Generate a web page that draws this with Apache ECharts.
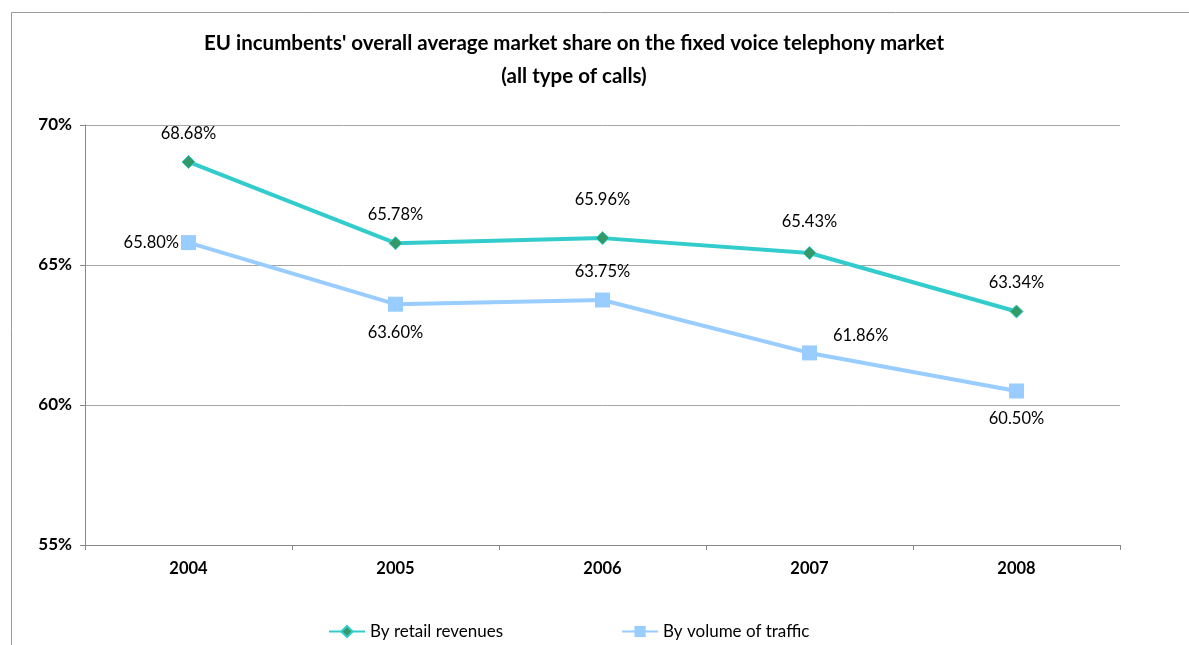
<!DOCTYPE html>
<html>
<head>
<meta charset="UTF-8">
<title>EU incumbents market share</title>
<script src="https://cdn.jsdelivr.net/npm/echarts@6/dist/echarts.min.js"></script>
<style>
  html, body { margin: 0; padding: 0; background: #fff; }
  #main { width: 1189px; height: 645px; }
</style>
</head>
<body>
<div id="main"></div>
<script>
var years = ['2004', '2005', '2006', '2007', '2008'];
var retailRevenues = [68.68, 65.78, 65.96, 65.43, 63.34];
var volumeTraffic = [65.80, 63.60, 63.75, 61.86, 60.50];
// label placement per point (as in the original chart)
var retailLabelOffset = [[0, 0], [0, 0], [0, -10], [0, -3], [0, 0]];
var volumeLabelPos = ['left', 'bottom', 'top', 'right', 'bottom'];
var volumeLabelOffset = [[10, 0], [0, 0], [0, 0], [4, -17], [0, 0]];

var font = 'Lato, "Open Sans", sans-serif';
var chart = echarts.init(document.getElementById('main'));

function pct(p) { return p.value.toFixed(2) + '%'; }

var option = {
  backgroundColor: '#fff',
  animation: false,
  title: {
    text: "EU incumbents' overall average market share on the fixed voice telephony market\n(all type of calls)",
    left: 569,
    textAlign: 'center',
    top: 22,
    textStyle: { fontFamily: font, fontSize: 20.5, fontWeight: 'bold', color: '#000', lineHeight: 33 }
  },
  graphic: [{
    type: 'rect',
    shape: { x: 11.5, y: 12.5, width: 1300, height: 800 },
    style: { fill: 'none', stroke: '#999', lineWidth: 1 },
    silent: true
  }],
  legend: {
    bottom: 0,
    left: 323,
    itemGap: 118,
    itemWidth: 36,
    itemHeight: 14,
    textStyle: { fontFamily: font, fontSize: 17, color: '#000' },
    data: ['By retail revenues', 'By volume of traffic']
  },
  grid: { left: 85, right: 69, top: 125, bottom: 100 },
  xAxis: {
    type: 'category',
    data: years,
    boundaryGap: true,
    axisLine: { lineStyle: { color: '#888' } },
    axisTick: { show: true, length: 5, lineStyle: { color: '#888' } },
    axisLabel: { fontFamily: font, fontSize: 16.5, fontWeight: 'bold', color: '#000', margin: 15 }
  },
  yAxis: {
    type: 'value',
    min: 55,
    max: 70,
    interval: 5,
    axisLine: { show: true, lineStyle: { color: '#888' } },
    axisTick: { show: true, length: 5, lineStyle: { color: '#888' } },
    splitLine: { lineStyle: { color: '#a6a6a6' } },
    axisLabel: {
      fontFamily: font, fontSize: 17, fontWeight: 'bold', color: '#000', margin: 13,
      formatter: function (v) { return v + '%'; }
    }
  },
  series: [
    {
      name: 'By retail revenues',
      type: 'line',
      data: retailRevenues.map(function (v, i) {
        return { value: v, label: { offset: retailLabelOffset[i] } };
      }),
      symbol: 'diamond',
      symbolSize: 13,
      lineStyle: { color: '#33CCCC', width: 4 },
      itemStyle: { color: '#339966', borderColor: '#33CCCC', borderWidth: 1 },
      label: {
        show: true, position: 'top', distance: 13,
        fontFamily: font, fontSize: 16.5, color: '#000',
        formatter: pct
      },
      z: 3
    },
    {
      name: 'By volume of traffic',
      type: 'line',
      data: volumeTraffic.map(function (v, i) {
        return { value: v, label: { position: volumeLabelPos[i], offset: volumeLabelOffset[i] } };
      }),
      symbol: 'rect',
      symbolSize: 15,
      lineStyle: { color: '#99CCFF', width: 4 },
      itemStyle: { color: '#99CCFF' },
      label: {
        show: true, distance: 12,
        fontFamily: font, fontSize: 16.5, color: '#000',
        formatter: pct
      },
      z: 2
    }
  ]
};

chart.setOption(option);
</script>
</body>
</html>
